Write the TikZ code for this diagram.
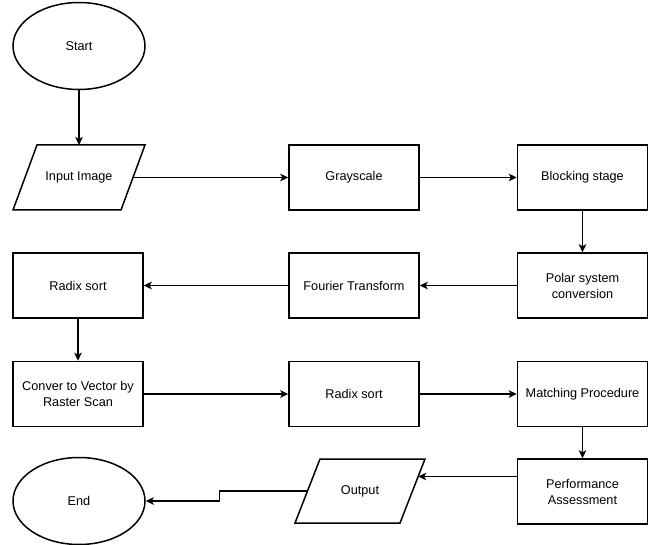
\documentclass[tikz,border=0pt]{standalone}
\usepackage{fontspec}
\setmainfont{Liberation Sans}
\usetikzlibrary{shapes.geometric,arrows.meta,calc}
\begin{document}
\begin{tikzpicture}[x=1pt,y=-1pt,
  every node/.style={font=\fontsize{12.7}{16}\selectfont, line width=1.5pt, draw=black, text=black, align=center, inner sep=0pt},
  box/.style={rectangle, minimum width=130pt, minimum height=65pt},
  term/.style={ellipse, minimum width=132pt, minimum height=87pt},
  io/.style={rectangle, draw=none, minimum width=106pt, minimum height=65pt},
  ioline/.style={line width=1.5pt, line join=miter},
  conn/.style={line width=1.5pt, -{Stealth[length=8pt,width=7.5pt,inset=2pt]}}
]
\useasboundingbox (0,0) rectangle (653,545);
\node[term] (start) at (79,46) {Start};
\node[io] (input) at (79,177.5) {Input Image};
\draw[ioline] ($(input.center)+(-42,-32.5)$) -- ($(input.center)+(66,-32.5)$) -- ($(input.center)+(42,32.5)$) -- ($(input.center)+(-66,32.5)$) -- cycle;
\coordinate (inE) at ($(input.center)+(54,0)$);
\coordinate (inN) at ($(input.center)+(0,-32.5)$);
\node[box] (gray) at (354,177.5) {Grayscale};
\node[box] (block) at (582.5,177.5) {Blocking stage};
\node[box] (polar) at (582.5,285.5) {Polar system\\conversion};
\node[box] (fourier) at (354,285.5) {Fourier Transform};
\node[box] (radix1) at (78,285.5) {Radix sort};
\node[box] (conver) at (78,394) {Conver to Vector by\\Raster Scan};
\node[box] (radix2) at (354,394) {Radix sort};
\node[box] (match) at (582.5,394) {Matching Procedure};
\node[box] (perf) at (582.5,491.5) {Performance\\Assessment};
\node[io] (out) at (360,491) {Output};
\draw[ioline] ($(out.center)+(-40,-32)$) -- ($(out.center)+(65,-32)$) -- ($(out.center)+(40,32)$) -- ($(out.center)+(-65,32)$) -- cycle;
\coordinate (outW) at ($(out.center)+(-52.5,0)$);
\coordinate (outR) at ($(out.center)+(58.2,-14.5)$);
\node[term] (end) at (79,501) {End};

\draw[conn] (start) -- (inN);
\draw[conn] (inE) -- (gray.west |- inE);
\draw[conn] (gray) -- (block);
\draw[conn] (block) -- (polar);
\draw[conn] (polar) -- (fourier);
\draw[conn] (fourier) -- (radix1);
\draw[conn] (radix1) -- (conver);
\draw[conn] (conver) -- (radix2);
\draw[conn] (radix2) -- (match);
\draw[conn] (match) -- (perf);
\draw[conn] (perf.west |- outR) -- (outR);
\coordinate (bend) at ($(outW)+(-88,0)$);
\draw[conn] (outW) -- (bend) |- (end.east);
\end{tikzpicture}
\end{document}
